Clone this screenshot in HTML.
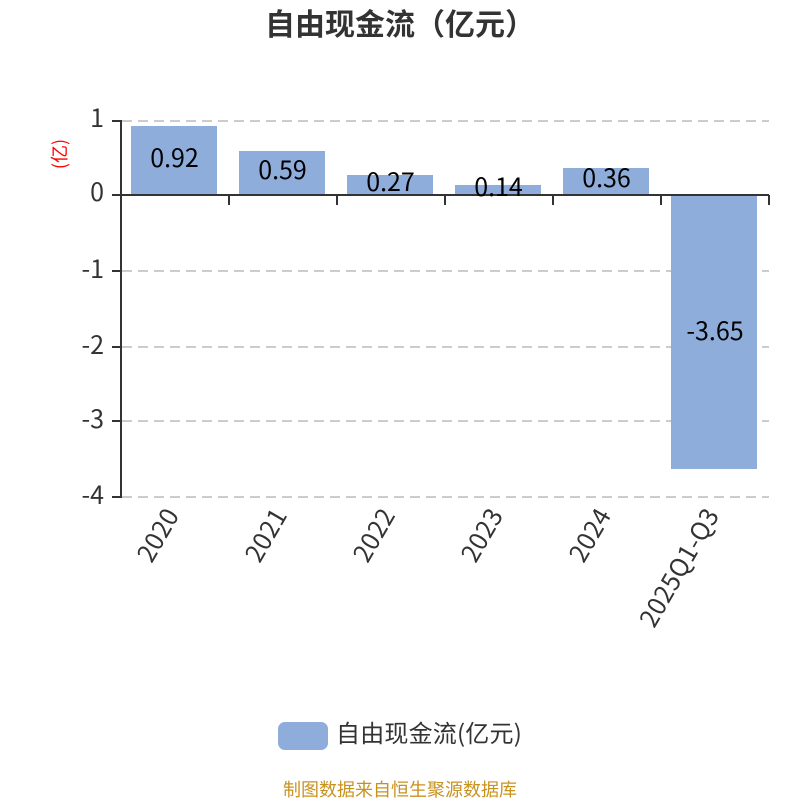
<!DOCTYPE html>
<html lang="zh">
<head>
<meta charset="utf-8">
<style>
html,body{margin:0;padding:0;background:#fff}
svg{display:block}
text{font-family:"Noto Sans CJK SC","Liberation Sans",sans-serif}
</style>
</head>
<body>
<svg width="800" height="800" viewBox="0 0 800 800" xmlns="http://www.w3.org/2000/svg">
<rect width="800" height="800" fill="#fff"/>
<text x="265" y="35" font-size="30" font-weight="700" fill="#333">自由现金流（亿元）</text>
<g stroke="#ccc" stroke-width="2" stroke-dasharray="10 6" fill="none">
<line x1="122" y1="121" x2="769" y2="121"/>
<line x1="122" y1="271" x2="769" y2="271"/>
<line x1="122" y1="347" x2="769" y2="347"/>
<line x1="122" y1="421" x2="769" y2="421"/>
<line x1="122" y1="497" x2="769" y2="497"/>
</g>
<g fill="#8eadda">
<rect x="131" y="126" width="86" height="69"/>
<rect x="239" y="151" width="86" height="44"/>
<rect x="347" y="175" width="86" height="20"/>
<rect x="455" y="185" width="86" height="10"/>
<rect x="563" y="168" width="86" height="27"/>
<rect x="671" y="195" width="86" height="274"/>
</g>
<g stroke="#333" stroke-width="2" fill="none">
<line x1="121" y1="120" x2="121" y2="497"/>
<line x1="112" y1="121" x2="122" y2="121"/>
<line x1="112" y1="195" x2="769" y2="195"/>
<line x1="112" y1="271" x2="122" y2="271"/>
<line x1="112" y1="347" x2="122" y2="347"/>
<line x1="112" y1="421" x2="122" y2="421"/>
<line x1="112" y1="497" x2="122" y2="497"/>
<line x1="229" y1="195" x2="229" y2="205"/>
<line x1="337" y1="195" x2="337" y2="205"/>
<line x1="445" y1="195" x2="445" y2="205"/>
<line x1="553" y1="195" x2="553" y2="205"/>
<line x1="661" y1="195" x2="661" y2="205"/>
<line x1="769" y1="195" x2="769" y2="205"/>
</g>
<g font-size="25" fill="#333" text-anchor="end">
<text x="104" y="127">1</text>
<text x="104" y="201">0</text>
<text x="104" y="278">-1</text>
<text x="104" y="354">-2</text>
<text x="104" y="428">-3</text>
<text x="104" y="504">-4</text>
</g>
<text transform="translate(66 154) rotate(-90)" font-size="18" fill="#f00" text-anchor="middle">(亿)</text>
<g font-size="25" fill="#000" text-anchor="middle">
<text x="174.5" y="167">0.92</text>
<text x="282.5" y="179">0.59</text>
<text x="390.5" y="191">0.27</text>
<text x="498.5" y="196">0.14</text>
<text x="606.5" y="187">0.36</text>
<text x="715" y="340">-3.65</text>
</g>
<g font-size="25" fill="#333" text-anchor="end" letter-spacing="0.3">
<text transform="translate(180 515) rotate(-60)">2020</text>
<text transform="translate(288 515) rotate(-60)">2021</text>
<text transform="translate(396 515) rotate(-60)">2022</text>
<text transform="translate(504 515) rotate(-60)">2023</text>
<text transform="translate(612 515) rotate(-60)">2024</text>
<text transform="translate(720 515) rotate(-60)">2025Q1-Q3</text>
</g>
<rect x="278" y="722" width="50" height="28" rx="7" fill="#8eadda"/>
<text x="336" y="742" font-size="24" fill="#333" letter-spacing="0.2">自由现金流(亿元)</text>
<text x="400" y="796" font-size="18" fill="#c8921f" text-anchor="middle">制图数据来自恒生聚源数据库</text>
</svg>
</body>
</html>
